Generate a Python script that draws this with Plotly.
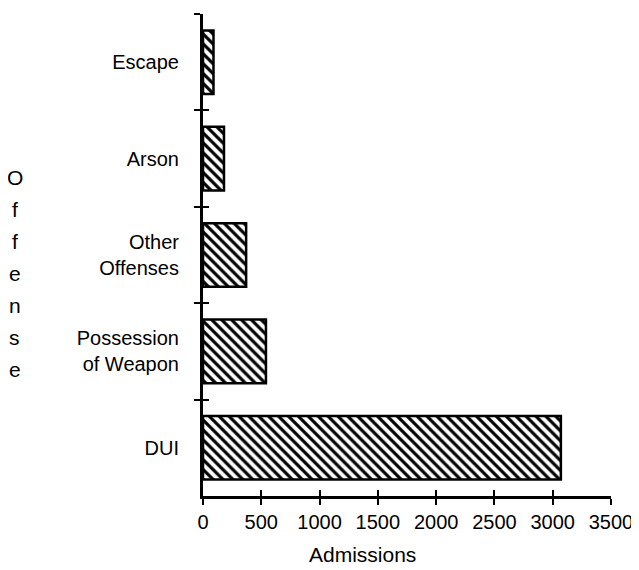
import plotly.graph_objects as go

# Data
offenses = ["Escape", "Arson", "Other<br>Offenses", "Possession<br>of Weapon", "DUI"]
admissions = [90, 180, 370, 540, 3070]
x_ticks = [0, 500, 1000, 1500, 2000, 2500, 3000, 3500]
y_title = "Offense"

font = dict(family="Liberation Sans, Arial, sans-serif", size=20, color="black")
title_font = dict(font, size=21)

fig = go.Figure()

# main hatched bars
fig.add_trace(go.Bar(
    x=admissions, y=offenses, orientation="h", width=0.66,
    marker=dict(color="white",
                line=dict(color="black", width=2.5),
                pattern=dict(shape="\\", fgcolor="black", bgcolor="white",
                             fgopacity=1, size=7, solidity=0.45)),
    hoverinfo="x+y", showlegend=False,
))
# transparent copy on overlay axes, only to draw the inward half of the ticks
fig.add_trace(go.Bar(
    x=admissions, y=offenses, orientation="h", xaxis="x2", yaxis="y2",
    marker=dict(color="rgba(0,0,0,0)"), hoverinfo="skip", showlegend=False,
))

axis_common = dict(showline=True, linecolor="black", linewidth=3,
                   showgrid=False, zeroline=False, tickcolor="black",
                   tickwidth=2, ticklen=6, automargin=False)

# page body adds an 8px margin, so the figure is 8px smaller than the window
fig.update_layout(
    template="none",
    width=631, height=562,
    margin=dict(l=195, r=28, t=6, b=74),
    plot_bgcolor="white", paper_bgcolor="white",
    font=font, bargap=0.34,
    xaxis=dict(range=[0, 3500], tickvals=x_ticks, ticks="outside", **axis_common),
    yaxis=dict(autorange="reversed", ticks="outside", tickson="boundaries",
               ticklabelstandoff=17, **axis_common),
    xaxis2=dict(overlaying="x", matches="x", ticks="inside", tickvals=x_ticks,
                showticklabels=False, **axis_common),
    yaxis2=dict(overlaying="y", matches="y", ticks="inside", tickson="boundaries",
                showticklabels=False, side="left", **axis_common),
)

# x axis title (sits left of centre in the reference)
fig.add_annotation(text="Admissions", xref="paper", yref="paper",
                   x=0.39, y=-0.122, yanchor="middle", showarrow=False,
                   font=title_font)

# vertical letter-by-letter y axis title
for i, ch in enumerate(y_title):
    fig.add_annotation(text=ch, xref="paper", yref="paper",
                       x=-0.461, y=0.66 - i * 0.0664, showarrow=False,
                       xanchor="center", yanchor="middle", font=title_font)

fig.write_html("out.html")
